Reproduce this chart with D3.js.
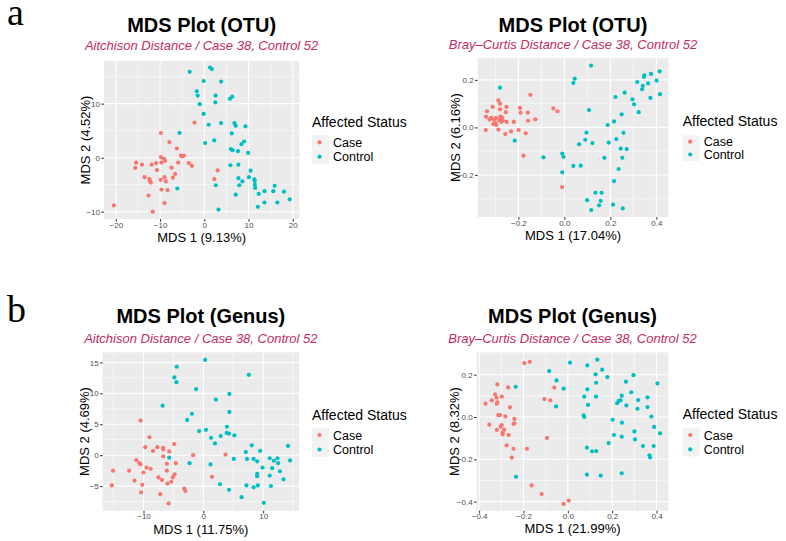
<!DOCTYPE html>
<html><head><meta charset="utf-8">
<script src="https://cdn.jsdelivr.net/npm/d3@7"></script>
<style>
body{margin:0;background:#fff}
text{font-family:"Liberation Sans",Arial,sans-serif}
</style>
</head><body>
<svg id="chart" width="786" height="541"></svg>
<script>
// ---------------- DATA ----------------
const groups = ["Case", "Control"];
const colors = ["#F8766D", "#00BFC4"];

// Panel a-left: OTU, Aitchison
const otuAitCase = [[-20.45,-8.83],[-15.4,-0.93],[-15.6,-1.9],[-14.1,-1.3],[-13.5,-3.6],[-12.4,-3.95],[-12.3,-4.3],[-12.1,-4.6],[-12.6,-7.0],[-11.65,-10.0],[-11.9,-1.3],[-10.9,-1.0],[-10.7,-2.3],[-9.8,4.57],[-9.8,0.1],[-9.7,-0.9],[-9.85,-4.1],[-9.7,-5.9],[-9.1,-0.2],[-8.9,-0.6],[-9.0,-3.6],[-8.7,-4.4],[-9.0,-8.4],[-8.3,-6.0],[-7.9,2.9],[-7.4,-1.85],[-7.1,-3.7],[-6.6,-3.0],[-6.2,1.7],[-5.9,-0.9],[-5.3,0.4],[-5.0,0.25],[-4.6,0.4],[-3.5,-1.0],[-2.8,-1.5],[-2.2,6.5],[2.25,-3.95],[3.0,-2.35]];
const otuAitControl = [[-3.3,15.9],[1.3,16.7],[1.7,16.4],[-0.15,14.2],[3.8,14.1],[-1.7,12.3],[-1.5,11.5],[-1.05,9.9],[2.55,11.5],[2.5,10.25],[5.8,10.9],[6.3,11.3],[-0.15,8.1],[1.0,6.1],[3.8,6.4],[6.8,6.4],[7.1,5.9],[9.3,5.8],[-5.6,4.6],[6.2,4.5],[0.2,2.7],[2.25,3.2],[9.0,3.0],[8.4,2.5],[6.0,1.6],[6.4,1.4],[7.6,1.2],[9.9,0.9],[5.9,-1.4],[7.7,-1.3],[10.45,-2.4],[7.7,-3.8],[8.6,-4.4],[10.1,-3.6],[7.9,-5.1],[2.6,-5.1],[-6.1,-5.7],[7.1,-6.85],[11.3,-4.0],[11.4,-4.3],[11.4,-5.0],[11.5,-5.6],[12.3,-6.7],[12.1,-9.1],[13.6,-6.2],[13.6,-8.3],[15.9,-5.2],[15.6,-6.2],[16.5,-8.3],[18.0,-6.3],[19.3,-7.7],[3.2,-9.6]];

// Panel a-right: OTU, Bray-Curtis
const otuBrayCase = [[-0.342,-0.011],[-0.341,0.045],[-0.336,0.068],[-0.326,0.033],[-0.318,0.040],[-0.312,0.086],[-0.307,0.033],[-0.309,0.014],[-0.300,0.020],[-0.297,0.040],[-0.296,0.010],[-0.287,0.114],[-0.287,-0.009],[-0.283,0.030],[-0.280,0.100],[-0.280,0.076],[-0.278,0.045],[-0.272,0.042],[-0.274,0.023],[-0.268,0.030],[-0.257,-0.028],[-0.255,0.064],[-0.252,0.086],[-0.251,0.023],[-0.232,-0.017],[-0.220,0.023],[-0.199,-0.011],[-0.193,0.082],[-0.191,0.062],[-0.178,-0.119],[-0.168,-0.025],[-0.159,0.062],[-0.158,0.028],[-0.148,0.137],[-0.126,0.034],[-0.048,0.080],[-0.030,0.068],[-0.010,-0.251]];
const otuBrayControl = [[-0.280,0.167],[-0.216,-0.056],[-0.091,-0.126],[-0.009,-0.110],[-0.004,-0.124],[-0.009,-0.189],[0.039,0.187],[0.045,0.205],[0.116,0.260],[0.039,-0.162],[0.071,-0.161],[0.064,-0.071],[0.091,-0.052],[0.096,-0.022],[0.107,0.073],[0.122,-0.066],[0.099,-0.306],[0.117,-0.348],[0.135,-0.275],[0.151,-0.328],[0.158,-0.309],[0.162,-0.275],[0.174,-0.128],[0.188,0.010],[0.193,-0.064],[0.212,-0.325],[0.216,0.025],[0.216,-0.226],[0.222,0.128],[0.226,-0.049],[0.236,-0.175],[0.245,-0.089],[0.249,0.055],[0.252,-0.128],[0.257,-0.023],[0.254,-0.341],[0.262,0.146],[0.271,-0.091],[0.296,0.118],[0.303,0.097],[0.317,0.191],[0.323,0.064],[0.338,0.160],[0.341,0.175],[0.346,0.212],[0.348,0.219],[0.364,0.185],[0.377,0.225],[0.374,0.124],[0.401,0.197],[0.414,0.236],[0.416,0.140]];

// Panel b-left: Genus, Aitchison
const genusAitCase = [[-15.3,-4.9],[-15.1,-2.5],[-12.4,-2.5],[-11.2,-0.8],[-11.5,-4.1],[-10.7,-1.3],[-10.5,-1.5],[-10.5,5.6],[-10.4,-6.0],[-10.2,-4.8],[-10.0,-2.8],[-9.7,1.3],[-9.5,-2.0],[-9.0,2.9],[-8.8,-2.2],[-8.4,0.7],[-7.7,1.3],[-7.5,-3.6],[-7.2,-6.3],[-6.9,-4.0],[-6.7,1.2],[-6.7,0.95],[-6.7,-0.2],[-6.1,-1.4],[-6.1,-2.5],[-6.0,-4.6],[-5.7,0.6],[-5.35,-4.3],[-5.1,-3.6],[-4.85,1.8],[-4.6,-1.3],[-4.8,-3.1],[-5.8,-7.8],[-3.2,-5.4],[-3.0,-5.8],[-1.7,0.0],[1.45,-3.5],[3.7,0.1]];
const genusAitControl = [[-6.8,8.0],[-5.7,-0.4],[-4.85,12.6],[-4.45,14.3],[-4.5,11.8],[-2.7,5.7],[-1.9,6.7],[-2.3,-1.3],[-1.2,10.7],[-0.7,3.9],[0.45,4.1],[0.3,15.4],[1.3,2.8],[1.2,-1.5],[1.95,1.9],[2.1,9.0],[2.9,3.1],[2.8,-4.7],[3.95,4.6],[3.9,3.6],[4.3,3.5],[4.35,9.9],[4.35,7.0],[4.3,-5.6],[5.2,3.2],[5.1,-0.6],[6.4,-6.8],[7.1,0.5],[7.3,-0.6],[7.2,-4.9],[7.6,13.0],[8.1,1.6],[8.4,-0.6],[8.4,-5.2],[9.0,-1.0],[9.0,-3.0],[9.0,-3.4],[9.1,-4.9],[9.5,0.7],[9.9,-2.0],[10.1,-7.7],[11.1,-0.5],[11.1,-3.3],[11.3,-5.0],[11.5,-2.1],[11.8,-0.9],[12.4,-0.5],[12.5,-1.3],[12.8,-2.6],[13.4,-3.9],[14.15,1.5],[14.5,-0.85]];

// Panel b-right: Genus, Bray-Curtis
const genusBrayCase = [[-0.371,0.063],[-0.354,-0.036],[-0.343,0.079],[-0.328,0.107],[-0.321,0.091],[-0.318,0.154],[-0.318,0.069],[-0.320,0.063],[-0.320,-0.061],[-0.314,0.009],[-0.306,0.009],[-0.303,-0.046],[-0.298,0.096],[-0.298,-0.038],[-0.294,-0.074],[-0.294,-0.082],[-0.287,-0.060],[-0.282,0.003],[-0.276,-0.134],[-0.269,0.140],[-0.267,-0.085],[-0.261,0.046],[-0.253,-0.192],[-0.245,-0.150],[-0.241,-0.009],[-0.241,-0.030],[-0.245,-0.033],[-0.196,0.255],[-0.172,0.261],[-0.184,-0.150],[-0.163,-0.323],[-0.118,-0.364],[-0.106,0.085],[-0.094,-0.099],[-0.079,0.079],[-0.061,0.139],[-0.019,-0.411],[0.004,-0.395]];
const genusBrayControl = [[-0.235,0.143],[-0.234,-0.283],[-0.084,0.217],[-0.051,0.173],[-0.053,0.050],[-0.019,0.134],[0.010,0.257],[0.071,0.008],[0.074,0.096],[0.074,0.000],[0.088,0.244],[0.088,0.131],[0.091,0.057],[0.086,-0.145],[0.086,-0.272],[0.109,-0.162],[0.125,0.202],[0.127,0.096],[0.128,0.162],[0.133,0.271],[0.128,-0.161],[0.148,-0.277],[0.155,0.224],[0.178,0.189],[0.184,-0.123],[0.202,-0.013],[0.208,-0.085],[0.222,0.065],[0.229,0.076],[0.238,0.079],[0.243,0.101],[0.243,-0.093],[0.244,-0.027],[0.243,-0.266],[0.262,0.167],[0.264,0.055],[0.286,0.117],[0.296,0.198],[0.300,-0.068],[0.303,-0.106],[0.317,0.080],[0.314,0.039],[0.339,-0.137],[0.359,0.093],[0.359,0.047],[0.368,-0.181],[0.371,-0.191],[0.377,0.002],[0.389,-0.047],[0.387,-0.137],[0.404,0.159],[0.416,-0.077]];

// Tick values
const ticksAitOtuX = [-20, -10, 0, 10, 20];
const ticksAitOtuY = [-10, 0, 10];
const ticksBrayOtuX = [-0.2, 0.0, 0.2, 0.4];
const ticksBrayOtuY = [-0.2, 0.0, 0.2];
const ticksAitGenusX = [-10, 0, 10];
const ticksAitGenusY = [-5, 0, 5, 10, 15];
const ticksBrayGenusX = [-0.4, -0.2, 0.0, 0.2, 0.4];
const ticksBrayGenusY = [-0.4, -0.2, 0.0, 0.2];

// Axis domains (panel extents)
const domAitOtuX = [-22.67, 21.47], domAitOtuY = [-11.35, 17.9];
const domBrayOtuX = [-0.377, 0.452], domBrayOtuY = [-0.377, 0.292];
const domAitGenusX = [-16.82, 15.99], domAitGenusY = [-8.98, 16.64];
const domBrayGenusX = [-0.411, 0.453], domBrayGenusY = [-0.443, 0.306];

// Text
const titlesMain = ["MDS Plot (OTU)", "MDS Plot (OTU)", "MDS Plot (Genus)", "MDS Plot (Genus)"];
const subtitles = ["Aitchison Distance / Case 38, Control 52", "Bray\u2013Curtis Distance / Case 38, Control 52",
                   "Aitchison Distance / Case 38, Control 52", "Bray\u2013Curtis Distance / Case 38, Control 52"];
const xTitles = ["MDS 1 (9.13%)", "MDS 1 (17.04%)", "MDS 1 (11.75%)", "MDS 1 (21.99%)"];
const yTitles = ["MDS 2 (4.52%)", "MDS 2 (6.16%)", "MDS 2 (4.69%)", "MDS 2 (8.32%)"];
const legendTitle = "Affected Status";

// ---------------- LAYOUT ----------------
const panels = [
  {case: otuAitCase, ctrl: otuAitControl, xt: ticksAitOtuX, yt: ticksAitOtuY, xd: domAitOtuX, yd: domAitOtuY, fmt: d3.format("d"),
   L:104, R:299.3, T:61, B:219, titleY:31.5, subY:50, xTitleY:241.5, yTitleX:89.5,
   leg:{x:312, titleY:127, k1:142.3, k2:156.7}},
  {case: otuBrayCase, ctrl: otuBrayControl, xt: ticksBrayOtuX, yt: ticksBrayOtuY, xd: domBrayOtuX, yd: domBrayOtuY, fmt: d3.format(".1f"),
   L:477.7, R:668.3, T:58, B:217, titleY:31.7, subY:48.5, xTitleY:239.5, yTitleX:459.5,
   leg:{x:682.7, titleY:126, k1:141.7, k2:154.5}},
  {case: genusAitCase, ctrl: genusAitControl, xt: ticksAitGenusX, yt: ticksAitGenusY, xd: domAitGenusX, yd: domAitGenusY, fmt: d3.format("d"),
   L:102.7, R:299, T:352.3, B:510.7, titleY:323.3, subY:342.7, xTitleY:533.5, yTitleX:88.5,
   leg:{x:312, titleY:420, k1:435, k2:449.5}},
  {case: genusBrayCase, ctrl: genusBrayControl, xt: ticksBrayGenusX, yt: ticksBrayGenusY, xd: domBrayGenusX, yd: domBrayGenusY, fmt: d3.format(".1f"),
   L:476.7, R:668.3, T:352.3, B:510.7, titleY:323.3, subY:342.7, xTitleY:532.5, yTitleX:458.5,
   leg:{x:682.7, titleY:419, k1:435, k2:449.3}}
];

const svg = d3.select("#chart");

// Panel letters
svg.append("text").attr("x", 7).attr("y", 25).text("a")
  .style("font-family", "'Liberation Serif','DejaVu Serif',serif").style("font-size", "38px").attr("fill", "#000");
svg.append("text").attr("x", 7).attr("y", 321.5).text("b")
  .style("font-family", "'Liberation Serif','DejaVu Serif',serif").style("font-size", "38px").attr("fill", "#000");

function minorTicks(ticks, dom) {
  const step = ticks[1] - ticks[0];
  const out = [];
  for (let v = ticks[0] - step / 2; v <= dom[1] + 1e-9; v += step) {
    if (v >= dom[0] && v <= dom[1]) out.push(+v.toFixed(6));
  }
  return out;
}

panels.forEach((p, i) => {
  const g = svg.append("g");
  const x = d3.scaleLinear().domain(p.xd).range([p.L, p.R]);
  const y = d3.scaleLinear().domain(p.yd).range([p.B, p.T]);

  g.append("rect").attr("x", p.L).attr("y", p.T).attr("width", p.R - p.L).attr("height", p.B - p.T).attr("fill", "#EBEBEB");

  // minor grid
  g.selectAll(".mx").data(minorTicks(p.xt, p.xd)).enter().append("line")
    .attr("x1", d => x(d)).attr("x2", d => x(d)).attr("y1", p.T).attr("y2", p.B)
    .attr("stroke", "#fff").attr("stroke-width", 0.55);
  g.selectAll(".my").data(minorTicks(p.yt, p.yd)).enter().append("line")
    .attr("y1", d => y(d)).attr("y2", d => y(d)).attr("x1", p.L).attr("x2", p.R)
    .attr("stroke", "#fff").attr("stroke-width", 0.55);
  // major grid
  g.selectAll(".gx").data(p.xt).enter().append("line")
    .attr("x1", d => x(d)).attr("x2", d => x(d)).attr("y1", p.T).attr("y2", p.B)
    .attr("stroke", "#fff").attr("stroke-width", 1.1);
  g.selectAll(".gy").data(p.yt).enter().append("line")
    .attr("y1", d => y(d)).attr("y2", d => y(d)).attr("x1", p.L).attr("x2", p.R)
    .attr("stroke", "#fff").attr("stroke-width", 1.1);

  // axes
  const ax = g.append("g").attr("transform", `translate(0,${p.B})`)
    .call(d3.axisBottom(x).tickValues(p.xt).tickSize(2.7).tickPadding(0.4).tickFormat(p.fmt));
  const ay = g.append("g").attr("transform", `translate(${p.L},0)`)
    .call(d3.axisLeft(y).tickValues(p.yt).tickSize(2.7).tickPadding(1.3).tickFormat(p.fmt));
  [ax, ay].forEach(a => {
    a.select(".domain").remove();
    a.selectAll(".tick line").attr("stroke", "#333333").attr("stroke-width", 1);
    a.selectAll(".tick text").attr("fill", "#4D4D4D").style("font-size", "8px")
      .style("font-family", "'Liberation Sans',Arial,sans-serif");
  });

  // points
  const pts = [];
  p.case.forEach(d => pts.push({v: d, gi: 0}));
  p.ctrl.forEach(d => pts.push({v: d, gi: 1}));
  g.selectAll(".pt").data(pts).enter().append("circle")
    .attr("cx", d => x(d.v[0])).attr("cy", d => y(d.v[1])).attr("r", 2.1)
    .attr("fill", d => colors[d.gi]);

  const cx = (p.L + p.R) / 2, cy = (p.T + p.B) / 2;
  // titles
  g.append("text").attr("x", cx).attr("y", p.titleY).attr("text-anchor", "middle")
    .style("font-size", "20px").style("font-weight", "bold").attr("fill", "#000").text(titlesMain[i]);
  g.append("text").attr("x", cx).attr("y", p.subY).attr("text-anchor", "middle")
    .style("font-size", "13px").style("font-style", "italic").attr("fill", "#C22A63").text(subtitles[i]);
  g.append("text").attr("x", cx).attr("y", p.xTitleY).attr("text-anchor", "middle")
    .style("font-size", "13px").attr("fill", "#000").text(xTitles[i]);
  g.append("text").attr("transform", `translate(${p.yTitleX},${cy}) rotate(-90)`).attr("text-anchor", "middle")
    .style("font-size", "13px").attr("fill", "#000").text(yTitles[i]);

  // legend
  const lg = g.append("g");
  lg.append("text").attr("x", p.leg.x).attr("y", p.leg.titleY).style("font-size", "14px").attr("fill", "#000").text(legendTitle);
  const ky = [p.leg.k1, p.leg.k2];
  groups.forEach((name, k) => {
    const kh = ky[1] - ky[0];
    lg.append("rect").attr("x", p.leg.x).attr("y", ky[k] - kh / 2).attr("width", 17).attr("height", kh)
      .attr("fill", "#F2F2F2");
    lg.append("circle").attr("cx", p.leg.x + 7.5).attr("cy", ky[k]).attr("r", 2.1).attr("fill", colors[k]);
    lg.append("text").attr("x", p.leg.x + 21).attr("y", ky[k] + 4.5).style("font-size", "12.5px").attr("fill", "#000").text(name);
  });
});
</script>
</body></html>
